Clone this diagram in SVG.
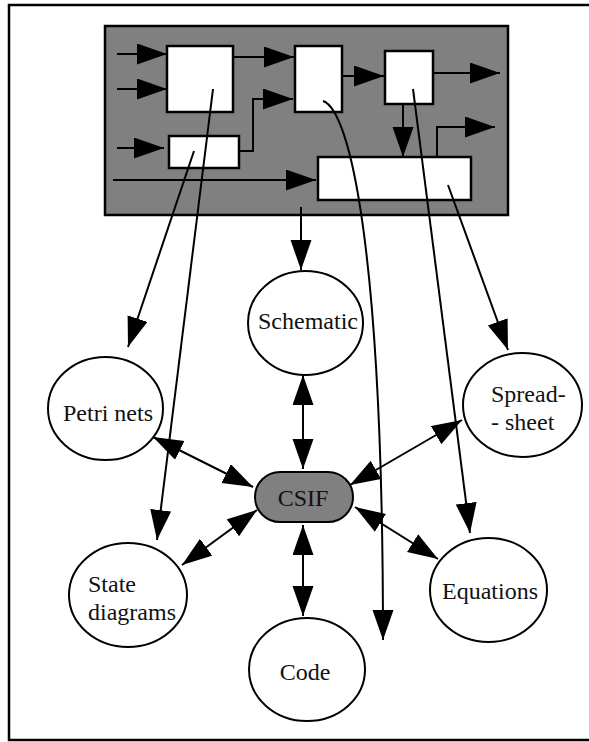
<svg xmlns="http://www.w3.org/2000/svg" width="589" height="742" viewBox="0 0 589 742">
<style>
.frame{fill:none;stroke:#000;stroke-width:2.5}
.panel{fill:#808080;stroke:#000;stroke-width:2.5}
.blk{fill:#fff;stroke:#000;stroke-width:2.5}
.node{fill:#fff;stroke:#000;stroke-width:2}
.hub{fill:#808080;stroke:#000;stroke-width:2}
.lbl{font-family:"Liberation Serif","Times New Roman",serif;font-size:24px;fill:#111}
.c{text-anchor:middle}
.e{fill:none;stroke:#000;stroke-width:2}
.a{marker-end:url(#ah)}
.d{marker-start:url(#ah);marker-end:url(#ah)}
</style>
<defs>
<marker id="ah" markerUnits="userSpaceOnUse" markerWidth="31" markerHeight="22" refX="30" refY="10.5" orient="auto-start-reverse">
<path d="M0,0 L30,10.5 L0,21 z" fill="#000"/>
</marker>
</defs>
<rect class="frame" x="9" y="5" width="595" height="735"/>
<g id="system">
<rect class="panel" x="105" y="26" width="403" height="189"/>
<rect id="blockA" class="blk" x="167" y="46" width="66" height="66"/>
<rect id="blockB" class="blk" x="169" y="136" width="70" height="32"/>
<rect id="blockC" class="blk" x="295" y="46" width="47" height="66"/>
<rect id="blockD" class="blk" x="385" y="51" width="48" height="53"/>
<rect id="blockE" class="blk" x="318" y="157" width="153" height="43"/>
</g>
<g id="schematic">
<ellipse class="node" cx="305.5" cy="323" rx="57.5" ry="52"/>
<text class="lbl c" x="308" y="329">Schematic</text>
</g>
<g id="petri">
<ellipse class="node" cx="105.5" cy="408.5" rx="57.5" ry="51.5"/>
<text class="lbl c" x="108" y="421">Petri nets</text>
</g>
<g id="spreadsheet">
<ellipse class="node" cx="522.5" cy="405" rx="59.5" ry="52"/>
<text class="lbl" x="491" y="402">Spread-</text>
<text class="lbl" x="491" y="430">- sheet</text>
</g>
<g id="csif">
<rect class="hub" x="255" y="472" width="98" height="50" rx="25" ry="25"/>
<text class="lbl c" x="303" y="506">CSIF</text>
</g>
<g id="state">
<ellipse class="node" cx="128" cy="595" rx="59" ry="52"/>
<text class="lbl" x="88" y="592">State</text>
<text class="lbl" x="88" y="620">diagrams</text>
</g>
<g id="equations">
<ellipse class="node" cx="488.5" cy="590" rx="58.5" ry="52"/>
<text class="lbl c" x="490" y="599">Equations</text>
</g>
<g id="code">
<ellipse class="node" cx="307" cy="669.5" rx="58" ry="51.5"/>
<text class="lbl c" x="305" y="680">Code</text>
</g>
<g id="connectors">
<path class="e a" d="M117,54 L167,54"/>
<path class="e a" d="M117,89 L167,89"/>
<path class="e a" d="M117,148 L164,148"/>
<path class="e a" d="M113,180 L316,180"/>
<path class="e a" d="M233,57 L294,57"/>
<path class="e a" d="M239,151 L253,151 L253,99 L293,99"/>
<path class="e a" d="M342,76 L384,76"/>
<path class="e a" d="M432,73 L500,73"/>
<path class="e a" d="M403,104 L403,157"/>
<path class="e a" d="M437,157 L437,127 L495,127"/>
<path class="e a" d="M301,207 L301,270"/>
<path class="e a" d="M194,151 L128,347"/>
<path class="e a" d="M213,89 L157,540"/>
<path class="e a" d="M323,101 C350,110 383,250 383,640"/>
<path class="e a" d="M413,89 L470,533"/>
<path class="e a" d="M448,185 L508,350"/>
<path class="e d" d="M303,375 L303,469"/>
<path class="e d" d="M153,437 L253,487"/>
<path class="e d" d="M182,565 L257,510"/>
<path class="e d" d="M462,420 L350,485"/>
<path class="e d" d="M438,559 L355,507"/>
<path class="e d" d="M303,525 L303,616"/>
</g>
</svg>
